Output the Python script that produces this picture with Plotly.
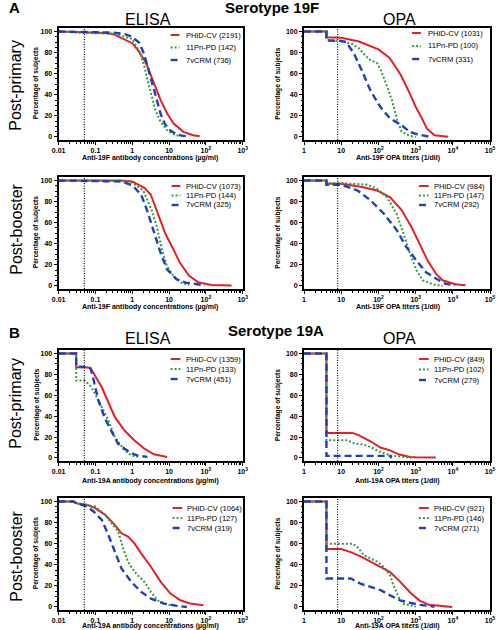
import plotly.graph_objects as go

W, H = 498, 630
FONT = "Liberation Sans, Arial, Helvetica, sans-serif"

# ------------------------------------------------------------------ data
SERIES = ["PHiD-CV", "11Pn-PD", "7vCRM"]
ELISA_CUTOFF = 0.05
OPA_CUTOFF = 8

ELISA_TICKVALS = [0.01, 0.1, 1, 10, 100, 1000]
ELISA_TICKTEXT = ["0.01", "0.1", "1", "10", "10<sup>2</sup>", "10<sup>3</sup>"]
OPA_TICKVALS = [1, 10, 100, 1000, 10000, 100000]
OPA_TICKTEXT = ["1", "10", "10<sup>2</sup>", "10<sup>3</sup>", "10<sup>4</sup>", "10<sup>5</sup>"]
Y_TICKVALS = [0, 20, 40, 60, 80, 100]

# Serotype 19F, ELISA, post-primary
A_EL_PP_N = [2191, 142, 736]
A_EL_PP_PHID_X = [0.01, 0.1, 0.2, 0.34, 0.63, 1.0, 1.41, 2.13, 2.6, 3.9, 5.9, 8.85, 13.3, 24.5, 45, 68]
A_EL_PP_PHID_Y = [100, 99, 98.5, 96.8, 92.7, 88.9, 82.5, 73, 66.7, 50.8, 34.9, 22.2, 12.7, 4.8, 1.6, 0.6]
A_EL_PP_11PN_X = [0.01, 0.05, 0.3, 0.63, 1.0, 1.57, 2.13, 2.6, 3.2, 4.3, 5.9, 8.85, 13.3, 20]
A_EL_PP_11PN_Y = [100, 98.5, 98, 95, 93, 81, 67, 54, 41, 25, 14.3, 6.3, 2.5, 0.6]
A_EL_PP_7V_X = [0.01, 0.1, 0.3, 0.63, 1.0, 1.57, 2.13, 2.6, 3.2, 3.9, 4.8, 5.9, 7.5, 10, 15, 22, 32]
A_EL_PP_7V_Y = [100, 99.5, 99, 97.5, 95, 89, 78, 67, 55, 44, 32, 22, 13, 7, 3, 1.2, 0.5]

# Serotype 19F, OPA, post-primary
A_OPA_PP_N = [1031, 100, 331]
A_OPA_PP_PHID_X = [1, 4, 4, 10, 30, 100, 200, 400, 700, 1000, 1500, 2000, 3200, 5000, 7500]
A_OPA_PP_PHID_Y = [100, 100, 94.5, 94, 90.5, 83, 75, 58.7, 41, 28.6, 17, 8, 1.6, 0.6, 0.3]
A_OPA_PP_11PN_X = [1, 4, 4, 10, 20, 30, 45, 60, 92, 117, 170, 230, 320, 420, 700, 1000]
A_OPA_PP_11PN_Y = [100, 100, 92, 91, 88, 84, 77, 73, 70, 63, 48, 35, 16, 5, 1, 0]
A_OPA_PP_7V_X = [1, 4, 4, 10, 13.6, 22, 37, 61, 112, 206, 420, 700, 1000, 2100, 2500]
A_OPA_PP_7V_Y = [100, 100, 91.5, 91, 90, 79, 62, 44, 28.5, 17.5, 11, 4.8, 3, 0.6, 0]

# Serotype 19F, ELISA, post-booster
A_EL_PB_N = [1073, 144, 325]
A_EL_PB_PHID_X = [0.01, 0.5, 1.0, 1.43, 2.14, 3.2, 4.76, 7.9, 13, 19.4, 35, 64, 143, 500]
A_EL_PB_PHID_Y = [100, 100, 99, 96, 93, 86.5, 70.5, 49.7, 35, 22.4, 9.6, 3.2, 0.8, 0.5]
A_EL_PB_11PN_X = [0.01, 0.5, 1.0, 2.0, 3.5, 4.76, 6.4, 8.7, 13, 21.4, 35]
A_EL_PB_11PN_Y = [100, 99.5, 97.8, 90.4, 70.5, 54.5, 35, 19, 9.6, 3.2, 0.8]
A_EL_PB_7V_X = [0.01, 0.5, 1.0, 1.75, 2.6, 3.9, 5.8, 8.7, 15.8, 28, 63, 95]
A_EL_PB_7V_Y = [100, 99, 95.5, 86.5, 70.5, 51, 32, 16, 6.4, 3.2, 1.3, 0.5]

# Serotype 19F, OPA, post-booster
A_OPA_PB_N = [984, 147, 292]
A_OPA_PB_PHID_X = [1, 4, 4, 10, 33, 92, 207, 420, 770, 1270, 2100, 3500, 5300, 11600, 22000]
A_OPA_PB_PHID_Y = [100, 100, 97, 97, 94, 90.5, 84, 72, 56, 40, 24, 11.7, 5.4, 1.6, 0.6]
A_OPA_PB_11PN_X = [1, 4, 4, 10, 50, 92, 170, 310, 465, 700, 1050, 1550, 2850, 5300]
A_OPA_PB_11PN_Y = [100, 100, 97.5, 97.5, 96, 92, 84, 68, 50, 31, 15, 5.4, 1.6, 0]
A_OPA_PB_7V_X = [1, 4, 4, 10, 27.5, 62, 140, 310, 560, 1050, 1900, 3500, 6400, 11600]
A_OPA_PB_7V_Y = [100, 100, 96, 96, 90.5, 81, 68.5, 53, 37, 24, 13, 7, 2, 0.6]

# Serotype 19A, ELISA, post-primary
B_EL_PP_N = [1359, 133, 451]
B_EL_PP_PHID_X = [0.01, 0.03, 0.03, 0.065, 0.077, 0.099, 0.149, 0.224, 0.338, 0.62, 1.15, 2.13, 3.9, 8.9]
B_EL_PP_PHID_Y = [100, 100, 86.7, 86.5, 85, 78.7, 67.6, 53.3, 39, 26.3, 16.8, 8.9, 3.5, 1]
B_EL_PP_11PN_X = [0.01, 0.03, 0.03, 0.052, 0.073, 0.099, 0.149, 0.224, 0.338, 0.62, 0.94, 1.4]
B_EL_PP_11PN_Y = [100, 100, 74, 74, 69, 61, 48.6, 35.9, 20, 7.3, 2.5, 1]
B_EL_PP_7V_X = [0.01, 0.03, 0.03, 0.065, 0.073, 0.084, 0.099, 0.12, 0.183, 0.275, 0.41, 0.62, 0.94, 1.4, 2.6]
B_EL_PP_7V_Y = [100, 100, 87.5, 87, 86, 78.7, 67.6, 55, 37.5, 24.8, 13.7, 8.9, 4.8, 2.2, 1]

# Serotype 19A, OPA, post-primary
B_OPA_PP_N = [849, 102, 279]
B_OPA_PP_PHID_X = [1, 4, 4, 20, 30, 61, 113, 206, 350, 700, 1000, 3500]
B_OPA_PP_PHID_Y = [100, 100, 24, 24, 21.6, 16, 10, 7.3, 3.5, 1, 0.6, 0.5]
B_OPA_PP_11PN_X = [1, 4, 4, 15, 22, 41, 61, 113, 206, 380, 760]
B_OPA_PP_11PN_Y = [100, 100, 17, 17, 14, 12.7, 10.5, 5.7, 2.5, 1, 0]
B_OPA_PP_7V_X = [1, 4, 4, 200, 230]
B_OPA_PP_7V_Y = [100, 100, 2, 2, 0]

# Serotype 19A, ELISA, post-booster
B_EL_PB_N = [1064, 127, 319]
B_EL_PB_PHID_X = [0.01, 0.025, 0.032, 0.059, 0.099, 0.183, 0.338, 0.509, 0.767, 1.15, 1.74, 3.21, 5.94, 10.9, 20.3, 37.5, 85]
B_EL_PB_PHID_Y = [100, 100, 98, 96.8, 93.7, 87.3, 77.8, 69.8, 66.7, 60.3, 50.8, 38.1, 23.8, 12.7, 6.3, 3.2, 1.6]
B_EL_PB_11PN_X = [0.01, 0.025, 0.032, 0.059, 0.099, 0.183, 0.275, 0.415, 0.564, 0.767, 1.15, 2.13, 3.21, 4.84, 7.3, 10.9]
B_EL_PB_11PN_Y = [100, 100, 98, 96.8, 95.2, 87.3, 79.4, 71.4, 55.6, 42.9, 33.3, 23.8, 14.3, 6.3, 3.2, 1.6]
B_EL_PB_7V_X = [0.01, 0.025, 0.032, 0.059, 0.089, 0.149, 0.224, 0.338, 0.509, 0.94, 1.74, 3.21, 7.3, 16.5, 30.5]
B_EL_PB_7V_Y = [100, 100, 98, 95.2, 90.5, 82.5, 68.3, 52.4, 36.5, 23.8, 14.3, 7.9, 3.2, 1, 0]

# Serotype 19A, OPA, post-booster
B_OPA_PB_N = [921, 146, 271]
B_OPA_PB_PHID_X = [1, 4, 4, 10, 18, 33, 61, 113, 206, 380, 700, 1270, 2300, 9600]
B_OPA_PB_PHID_Y = [100, 100, 55, 55, 52, 48, 43, 38, 33, 24, 14, 6, 2, 0]
B_OPA_PB_11PN_X = [1, 4, 4, 20, 27, 41, 92, 140, 206, 250, 345, 465, 850, 1000]
B_OPA_PB_11PN_Y = [100, 100, 60, 60, 57, 49, 43, 38, 30, 21, 9.5, 3, 1, 0]
B_OPA_PB_7V_X = [1, 4, 4, 10, 18, 33, 61, 113, 206, 380, 700, 1270, 2300, 3200]
B_OPA_PB_7V_Y = [100, 100, 27, 27, 27, 22, 19, 16, 11, 6.3, 4, 2, 1, 0]

X_TITLES = {
    ("19F", "ELISA"): "Anti-19F antibody concentrations (µg/ml)",
    ("19F", "OPA"): "Anti-19F OPA titers (1/dil)",
    ("19A", "ELISA"): "Anti-19A antibody concentrations (µg/ml)",
    ("19A", "OPA"): "Anti-19A OPA titers (1/dil)",
}
Y_TITLE = "Percentage of subjects"

PANELS = [
    ("19F", "ELISA", 0, 0, A_EL_PP_N, [(A_EL_PP_PHID_X, A_EL_PP_PHID_Y), (A_EL_PP_11PN_X, A_EL_PP_11PN_Y), (A_EL_PP_7V_X, A_EL_PP_7V_Y)]),
    ("19F", "OPA", 1, 0, A_OPA_PP_N, [(A_OPA_PP_PHID_X, A_OPA_PP_PHID_Y), (A_OPA_PP_11PN_X, A_OPA_PP_11PN_Y), (A_OPA_PP_7V_X, A_OPA_PP_7V_Y)]),
    ("19F", "ELISA", 0, 1, A_EL_PB_N, [(A_EL_PB_PHID_X, A_EL_PB_PHID_Y), (A_EL_PB_11PN_X, A_EL_PB_11PN_Y), (A_EL_PB_7V_X, A_EL_PB_7V_Y)]),
    ("19F", "OPA", 1, 1, A_OPA_PB_N, [(A_OPA_PB_PHID_X, A_OPA_PB_PHID_Y), (A_OPA_PB_11PN_X, A_OPA_PB_11PN_Y), (A_OPA_PB_7V_X, A_OPA_PB_7V_Y)]),
    ("19A", "ELISA", 0, 2, B_EL_PP_N, [(B_EL_PP_PHID_X, B_EL_PP_PHID_Y), (B_EL_PP_11PN_X, B_EL_PP_11PN_Y), (B_EL_PP_7V_X, B_EL_PP_7V_Y)]),
    ("19A", "OPA", 1, 2, B_OPA_PP_N, [(B_OPA_PP_PHID_X, B_OPA_PP_PHID_Y), (B_OPA_PP_11PN_X, B_OPA_PP_11PN_Y), (B_OPA_PP_7V_X, B_OPA_PP_7V_Y)]),
    ("19A", "ELISA", 0, 3, B_EL_PB_N, [(B_EL_PB_PHID_X, B_EL_PB_PHID_Y), (B_EL_PB_11PN_X, B_EL_PB_11PN_Y), (B_EL_PB_7V_X, B_EL_PB_7V_Y)]),
    ("19A", "OPA", 1, 3, B_OPA_PB_N, [(B_OPA_PB_PHID_X, B_OPA_PB_PHID_Y), (B_OPA_PB_11PN_X, B_OPA_PB_11PN_Y), (B_OPA_PB_7V_X, B_OPA_PB_7V_Y)]),
]

# ------------------------------------------------------------------ style / layout
COLORS = ["#e41f26", "#2f9e3a", "#1f3fbf"]
WIDTHS = [2.0, 2.0, 2.4]
DASHES = ["solid", "2px,2px", "7px,4px"]

COL_X = [(53, 242), (305, 496)]
ROW_Y = [(28, 140), (177, 289), (350, 461), (498, 610)]
Y_RANGE = [-2.9, 103.3]
X_RANGE = {"ELISA": [-2, 3], "OPA": [0, 5]}

# legend: (sample x0, sample x1, text x, first row y, row step) in pixels
LEGEND_POS = [
    (168, 177, 182, 35, 12.5),
    (416, 425, 430, 33, 13),
    (169, 178, 182, 186, 9.5),
    (423, 433, 436, 186, 9.5),
    (168, 178, 182, 359, 10),
    (423, 433, 436, 359, 10.5),
    (170, 180, 183, 508, 10),
    (423, 433, 436, 508, 10),
]
X_TITLE_Y = [157.5, 306.5, 480.5, 626]
X_TITLE_CX = [147, 401]
Y_TITLE_X = [30, 278]


def fx(p):
    return p / W


def fy(p):
    return 1 - p / H


def bold(t):
    return f"<b>{t}</b>"


fig = go.Figure()
shapes = []
annotations = []

for i, (sero, kind, col, row, counts, series) in enumerate(PANELS):
    k = i + 1
    xref = "x" if k == 1 else f"x{k}"
    yref = "y" if k == 1 else f"y{k}"
    for s, (xs, ys) in enumerate(series):
        fig.add_trace(go.Scatter(
            x=xs, y=ys, mode="lines", name=SERIES[s],
            line=dict(color=COLORS[s], width=WIDTHS[s], dash=DASHES[s]),
            xaxis=xref, yaxis=yref, showlegend=False, hoverinfo="skip"))

    x0, x1 = COL_X[col]
    y0, y1 = ROW_Y[row]
    tickvals = ELISA_TICKVALS if kind == "ELISA" else OPA_TICKVALS
    ticktext = ELISA_TICKTEXT if kind == "ELISA" else OPA_TICKTEXT
    axis_common = dict(
        showline=True, linecolor="black", linewidth=2, mirror=True,
        ticks="outside", ticklen=3, tickwidth=1, tickcolor="black",
        showgrid=False, zeroline=False,
        tickfont=dict(family=FONT, size=7, color="black"),
    )
    fig.layout[f"xaxis{'' if k == 1 else k}"] = dict(
        type="log", range=X_RANGE[kind], domain=[fx(x0), fx(x1)],
        anchor=yref, tickmode="array", tickvals=tickvals,
        ticktext=[bold(t) for t in ticktext],
        minor=dict(ticks="outside", ticklen=1.5, tickcolor="black", dtick="D1", showgrid=False),
        **axis_common)
    fig.layout[f"yaxis{'' if k == 1 else k}"] = dict(
        range=Y_RANGE, domain=[fy(y1), fy(y0)], anchor=xref,
        tickmode="array", tickvals=Y_TICKVALS,
        ticktext=[bold(str(v)) for v in Y_TICKVALS],
        minor=dict(ticks="outside", ticklen=1.5, tickcolor="black", dtick=5, showgrid=False),
        **axis_common)

    cutoff = ELISA_CUTOFF if kind == "ELISA" else OPA_CUTOFF
    shapes.append(dict(type="line", xref=xref, yref=f"{yref} domain", x0=cutoff, x1=cutoff,
                       y0=0, y1=1, line=dict(color="black", width=1.1, dash="1px,1.5px")))

    # manual legend
    lx0, lx1, tx, ly, step = LEGEND_POS[i]
    for s in range(3):
        yy = ly + s * step
        shapes.append(dict(type="line", xref="paper", yref="paper",
                           x0=fx(lx0), x1=fx(lx1), y0=fy(yy), y1=fy(yy),
                           line=dict(color=COLORS[s], width=WIDTHS[s], dash=DASHES[s])))
        annotations.append(dict(text=f"{SERIES[s]} ({counts[s]})", x=fx(tx), y=fy(yy),
                                xref="paper", yref="paper", xanchor="left", yanchor="middle",
                                showarrow=False, font=dict(family=FONT, size=7.6, color="black")))

    # axis titles
    annotations.append(dict(text=bold(X_TITLES[(sero, kind)]), x=fx(X_TITLE_CX[col]), y=fy(X_TITLE_Y[row]),
                            xref="paper", yref="paper", xanchor="center", yanchor="middle",
                            showarrow=False, font=dict(family=FONT, size=7, color="black")))
    annotations.append(dict(text=bold(Y_TITLE), x=fx(Y_TITLE_X[col]), y=fy((y0 + y1) / 2 - 1),
                            xref="paper", yref="paper", xanchor="center", yanchor="middle",
                            textangle=-90, showarrow=False,
                            font=dict(family=FONT, size=6.6, color="black")))

# headings
HEADINGS = [
    ("A", 0, 8, 15, True, "left"),
    ("Serotype 19F", 272, 8, 15, True, "center"),
    ("ELISA", 145, 19, 16, False, "center"),
    ("OPA", 403, 19, 16, False, "center"),
    ("B", 0, 332, 15, True, "left"),
    ("Serotype 19A", 276, 330, 15, True, "center"),
    ("ELISA", 145, 338, 16, False, "center"),
    ("OPA", 403, 338, 16, False, "center"),
]
for text, x, y, size, is_bold, anchor in HEADINGS:
    annotations.append(dict(text=bold(text) if is_bold else text, x=fx(x), y=fy(y),
                            xref="paper", yref="paper",
                            xanchor=anchor, yanchor="middle", showarrow=False,
                            font=dict(family=FONT, size=size, color="black")))

ROW_LABELS = [("Post-primary", 85), ("Post-booster", 229), ("Post-primary", 403), ("Post-booster", 556)]
for text, y in ROW_LABELS:
    annotations.append(dict(text=text, x=fx(9), y=fy(y), xref="paper", yref="paper",
                            xanchor="center", yanchor="middle", textangle=-90, showarrow=False,
                            font=dict(family=FONT, size=16, color="black")))

fig.update_layout(
    width=W, height=H, margin=dict(l=0, r=0, t=0, b=0),
    paper_bgcolor="white", plot_bgcolor="white", showlegend=False,
    shapes=shapes, annotations=annotations,
    font=dict(family=FONT, color="black"),
)

fig.write_html("out.html", config={"displayModeBar": False},
               post_script="document.body.style.margin='0';document.body.style.padding='0';")
